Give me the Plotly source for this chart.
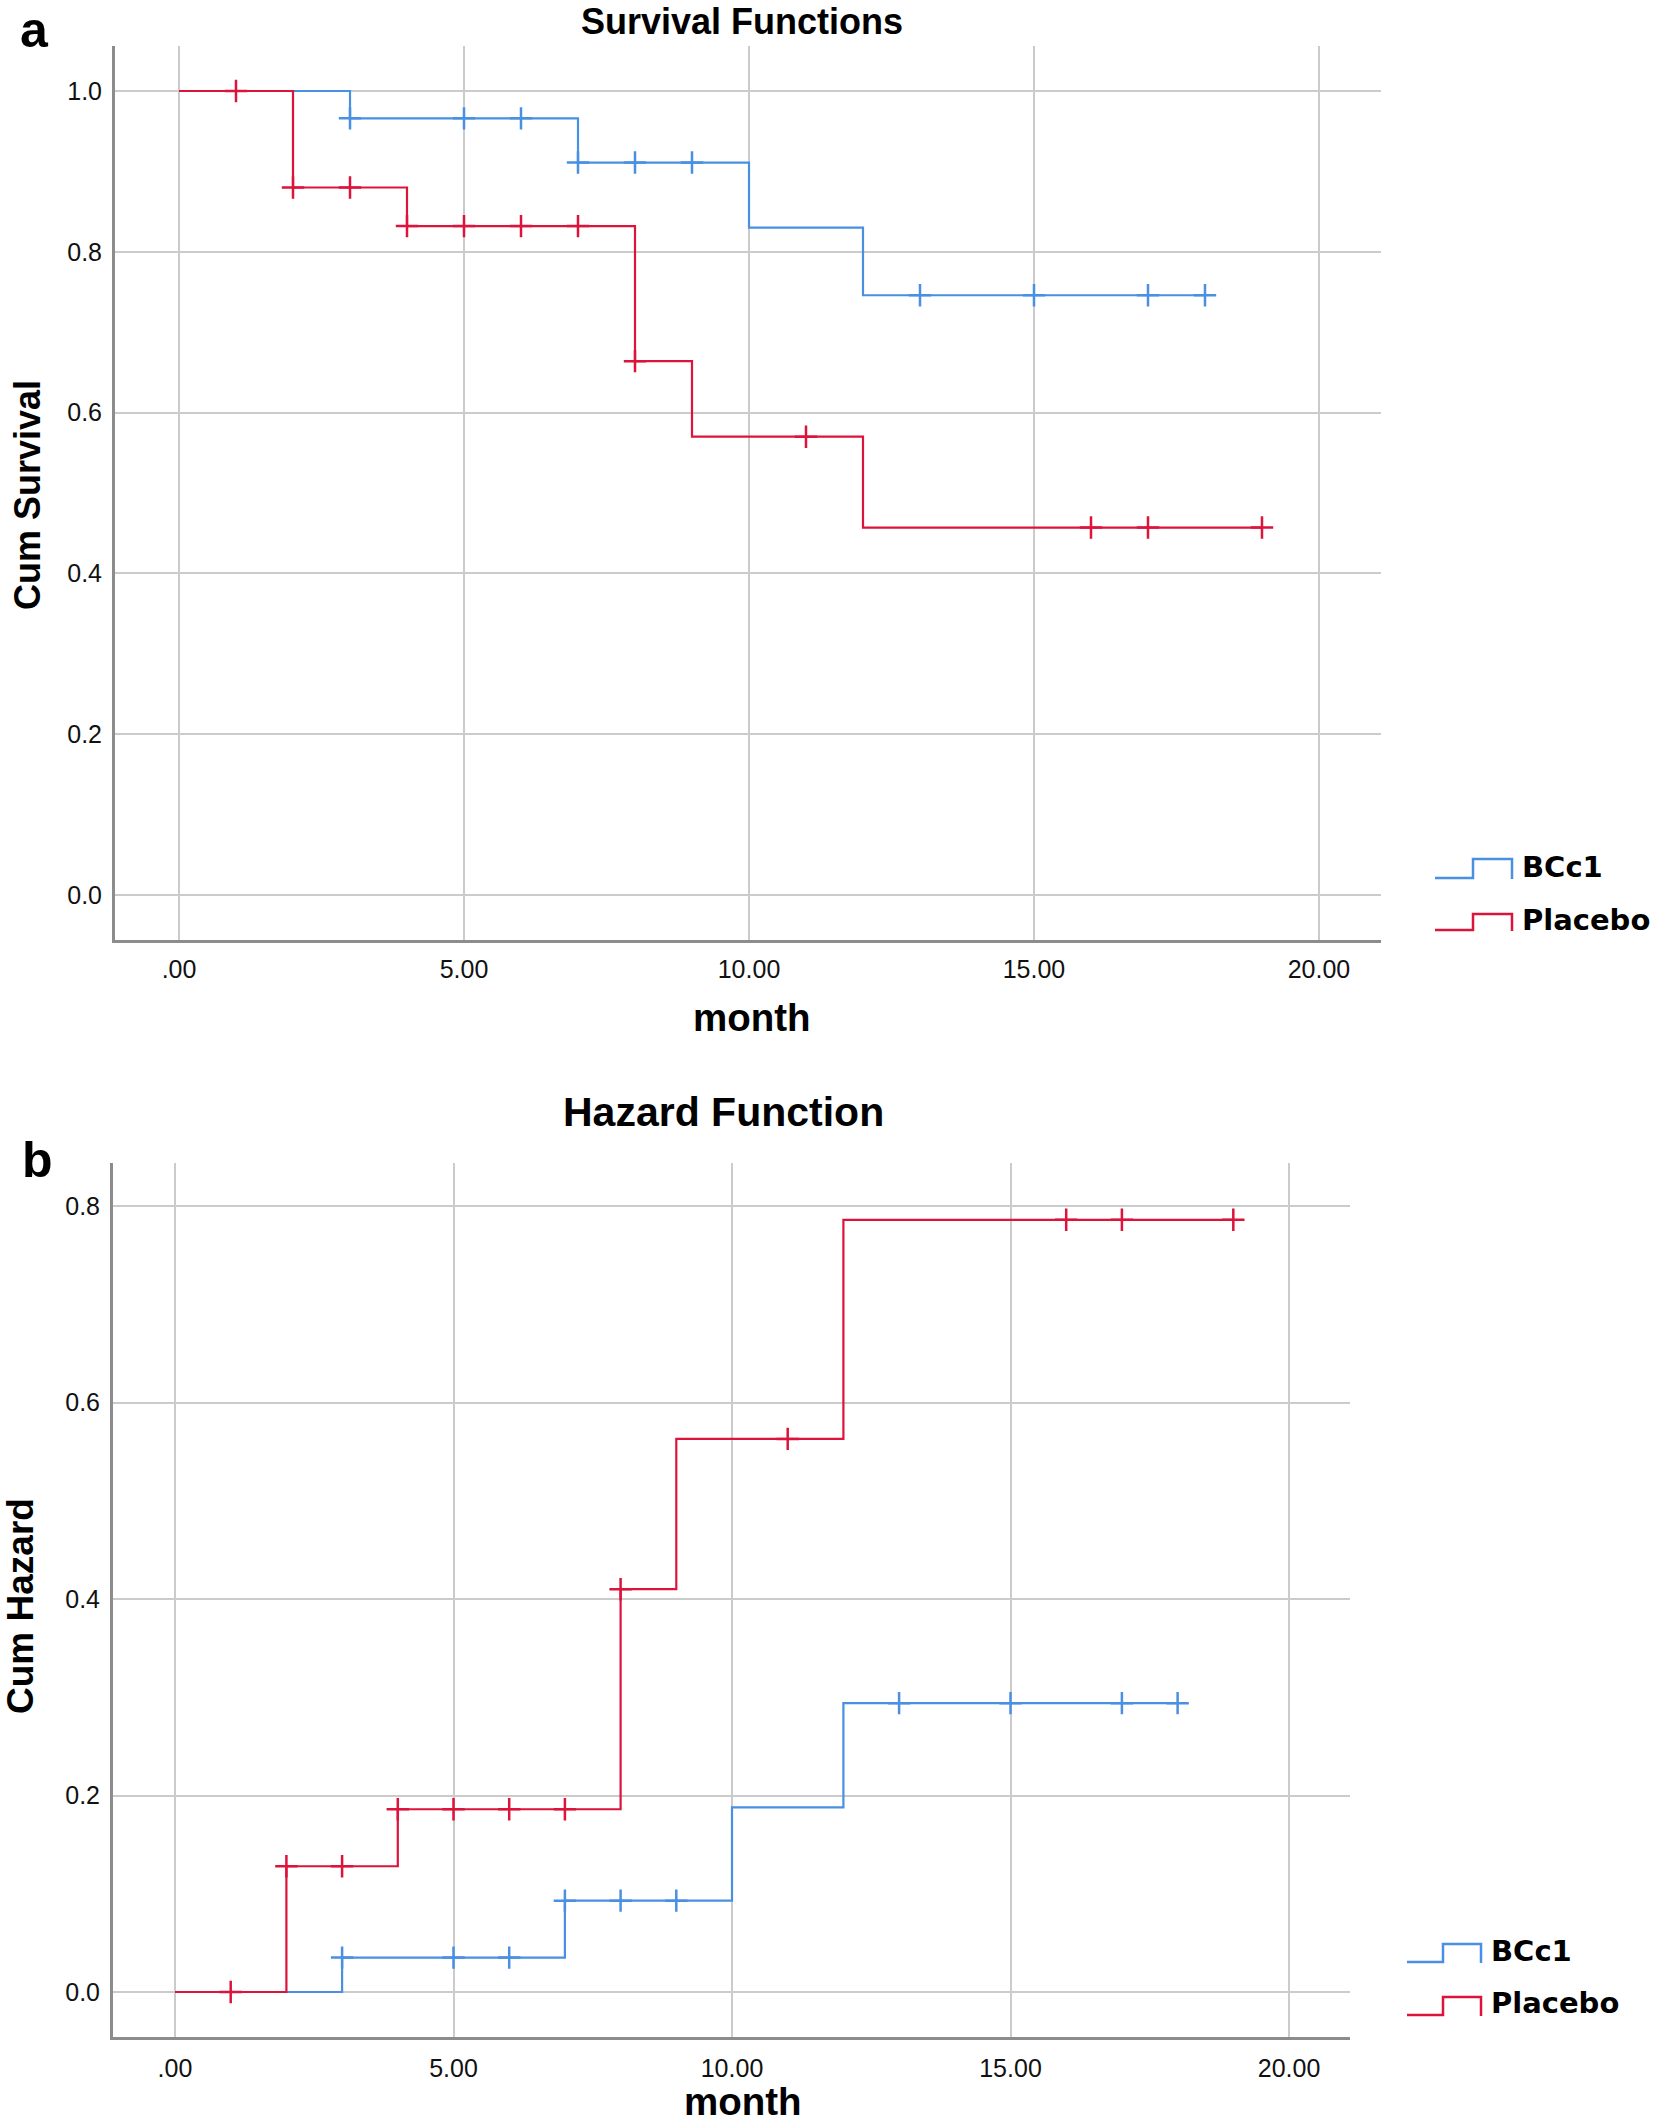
import plotly.graph_objects as go

W, H = 1654, 2125

# ---------------- data ----------------
bcc1_event_month = [0, 3, 7, 10, 12, 18]
bcc1_survival = [1.0, 0.966, 0.911, 0.830, 0.746, 0.746]
bcc1_hazard = [0.0, 0.035, 0.093, 0.188, 0.294, 0.294]
bcc1_censored_month = [3, 5, 6, 7, 8, 9, 13, 15, 17, 18]

placebo_event_month = [0, 2, 4, 8, 9, 12, 19]
placebo_survival = [1.0, 0.880, 0.832, 0.664, 0.570, 0.457, 0.457]
placebo_hazard = [0.0, 0.128, 0.186, 0.410, 0.563, 0.786, 0.786]
placebo_censored_month = [1, 2, 3, 4, 5, 6, 7, 8, 11, 16, 17, 19]

x_tick_values = [0, 5, 10, 15, 20]
x_tick_labels = [".00", "5.00", "10.00", "15.00", "20.00"]
surv_tick_values = [0.0, 0.2, 0.4, 0.6, 0.8, 1.0]
haz_tick_values = [0.0, 0.2, 0.4, 0.6, 0.8]

groups = ["BCc1", "Placebo"]
BLUE = "#4a90e2"
RED = "#dc143c"


def step_value(months, values, t):
    v = values[0]
    for m, val in zip(months, values):
        if m <= t:
            v = val
    return v


def px(x):
    return x / W


def py(y):
    return 1 - y / H


fig = go.Figure()

series = [
    ("BCc1", BLUE, bcc1_event_month, bcc1_survival, bcc1_hazard, bcc1_censored_month),
    ("Placebo", RED, placebo_event_month, placebo_survival, placebo_hazard, placebo_censored_month),
]

for name, col, months, surv, haz, cens in series:
    for vals, xa, ya in [(surv, "x", "y"), (haz, "x2", "y2")]:
        fig.add_trace(go.Scatter(
            x=months, y=vals, mode="lines", line=dict(color=col, width=2.2, shape="hv"),
            xaxis=xa, yaxis=ya, showlegend=False, name=name))
        fig.add_trace(go.Scatter(
            x=cens, y=[step_value(months, vals, t) for t in cens], mode="markers",
            marker=dict(symbol="cross-thin", size=16, line=dict(color=col, width=2.5)),
            xaxis=xa, yaxis=ya, showlegend=False, name=name))

FONT = "Liberation Sans, Arial, sans-serif"
GRID = "#cbcbcb"
AXL = "#8c8c8c"

common_x = dict(tickvals=x_tick_values, ticktext=x_tick_labels, showgrid=True,
                gridcolor=GRID, gridwidth=2, zeroline=False, showline=True,
                linecolor=AXL, linewidth=3, ticks="",
                tickfont=dict(family=FONT, size=25, color="#111"))
common_y = dict(showgrid=True, gridcolor=GRID, gridwidth=2, zeroline=False,
                showline=True, linecolor=AXL, linewidth=3, ticks="",
                ticklabelstandoff=5, tickformat=".1f",
                tickfont=dict(family=FONT, size=25, color="#111"))

fig.update_layout(
    width=W, height=H, margin=dict(l=0, r=0, t=0, b=0),
    paper_bgcolor="white", plot_bgcolor="white", showlegend=False,
    xaxis=dict(domain=[px(115), px(1381)], range=[-1.123, 21.088], anchor="y",
               ticklabelstandoff=5, **common_x),
    yaxis=dict(domain=[py(940), py(46)], range=[-0.056, 1.056], anchor="x",
               tickvals=surv_tick_values, **common_y),
    xaxis2=dict(domain=[px(113), px(1350)], range=[-1.113, 21.095], anchor="y2",
                ticklabelstandoff=7, **common_x),
    yaxis2=dict(domain=[py(2037), py(1163)], range=[-0.0458, 0.8438], anchor="x2",
                tickvals=haz_tick_values, **common_y),
)

ann = []


def text(x, y, s, size, bold=True, angle=0, family=FONT, xanchor="center"):
    ann.append(dict(x=px(x), y=py(y), xref="paper", yref="paper", text=(f"<b>{s}</b>" if bold else s),
                    showarrow=False, xanchor=xanchor, yanchor="middle", textangle=angle,
                    font=dict(family=family, size=size, color="#000")))


text(742, 22, "Survival Functions", 36)
text(723, 1112, "Hazard Function", 41)
text(34, 30, "a", 50)
text(37, 1160, "b", 50)
text(28, 495, "Cum Survival", 36, angle=-90)
text(20, 1606, "Cum Hazard", 37, angle=-90)
text(752, 1017, "month", 38.5)
text(743, 2101, "month", 38.5)

LEGFONT = "DejaVu Sans, Verdana, sans-serif"
shapes = []


def legend_item(x0, xm, x1, ylow, yhigh, col, label, ty):
    path = (f"M {px(x0)},{py(ylow)} L {px(xm)},{py(ylow)} L {px(xm)},{py(yhigh)} "
            f"L {px(x1)},{py(yhigh)} L {px(x1)},{py(ylow + 1)}")
    shapes.append(dict(type="path", xref="paper", yref="paper", path=path,
                       line=dict(color=col, width=2.5)))
    text(x1 + 8, ty, label, 29, family=LEGFONT, xanchor="left")


legend_item(1435, 1473, 1512, 878, 859, BLUE, groups[0], 867)
legend_item(1435, 1473, 1512, 930, 914, RED, groups[1], 920)
legend_item(1407, 1443, 1481, 1962, 1944, BLUE, groups[0], 1951)
legend_item(1407, 1443, 1481, 2015, 1997, RED, groups[1], 2003)

fig.update_layout(annotations=ann, shapes=shapes)

fig.write_html("out.html", config={"displayModeBar": False},
               post_script="document.body.style.margin='0';document.body.style.padding='0';")
